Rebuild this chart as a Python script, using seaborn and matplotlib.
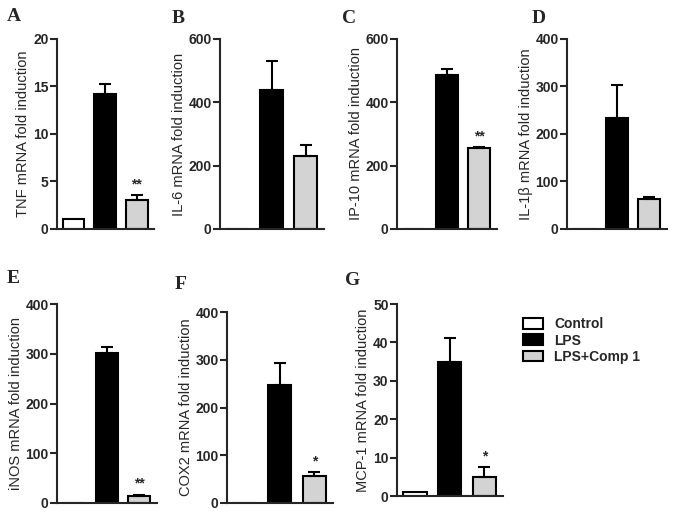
import numpy as np
import seaborn as sns
import matplotlib.pyplot as plt
from matplotlib.patches import Patch

sns.set_style("ticks")
plt.rcParams['font.family'] = ['Liberation Sans', 'DejaVu Sans']

# grupos y colores
groups = ["Control", "LPS", "LPS+Comp 1"]
colors = ["white", "black", "#d3d3d3"]

# valores (media, error superior)
tnf = [1.0, 14.2, 3.1]
tnf_err = [0, 1.1, 0.5]
il6 = [1.0, 438, 230]
il6_err = [0, 94, 35]
ip10 = [1.0, 486, 255]
ip10_err = [0, 19, 3]
il1b = [1.0, 234, 64]
il1b_err = [0, 70, 4]
inos = [1.0, 302, 15]
inos_err = [0, 11, 2]
cox2 = [1.0, 248, 57]
cox2_err = [0, 46, 7]
mcp1 = [1.0, 35.0, 4.9]
mcp1_err = [0, 6.2, 2.6]

panels = [
    ("A", tnf, tnf_err, "TNF mRNA fold induction", 20, 5, ["", "", "**"]),
    ("B", il6, il6_err, "IL-6 mRNA fold induction", 600, 200, ["", "", ""]),
    ("C", ip10, ip10_err, "IP-10 mRNA fold induction", 600, 200, ["", "", "**"]),
    ("D", il1b, il1b_err, "IL-1\u03b2 mRNA fold induction", 400, 100, ["", "", ""]),
    ("E", inos, inos_err, "iNOS mRNA fold induction", 400, 100, ["", "", "**"]),
    ("F", cox2, cox2_err, "COX2 mRNA fold induction", 400, 100, ["", "", "*"]),
    ("G", mcp1, mcp1_err, "MCP-1 mRNA fold induction", 50, 10, ["", "", "*"]),
]

# posiciones de los ejes en pixeles (izq, der, arriba, abajo) y de las letras
W, H = 674, 515
boxes = [(57, 154, 39, 229), (220, 324, 39, 229), (397, 497, 39, 229),
         (567, 667, 39, 229), (57, 157, 304, 503), (227, 333, 312, 503),
         (397, 503, 304, 496)]
letters = [(7, 21), (172, 23), (342, 23), (532, 23), (7, 283), (175, 289), (345, 285)]

fig = plt.figure(figsize=(6.74, 5.15), dpi=100)

for (letter, vals, errs, label, top, step, stars), (l, r, t, b), (lx, ly) in zip(panels, boxes, letters):
    ax = fig.add_axes([l / W, 1 - b / H, (r - l) / W, (b - t) / H])
    sns.barplot(x=groups, y=vals, hue=groups, palette=colors, edgecolor="black",
                linewidth=1.5, width=0.68, legend=False, ax=ax)
    for i in range(3):
        if errs[i] > 0:
            ax.errorbar(i, vals[i], yerr=[[0], [errs[i]]], fmt="none", ecolor="black",
                        elinewidth=1.5, capsize=4.3, capthick=1.5)
        if stars[i]:
            ax.text(i, vals[i] + errs[i] + top * 0.02, stars[i], ha="center", va="bottom",
                    fontsize=10, fontweight="bold")
    ax.set_xlim(-0.52, 2.54)
    ax.set_ylim(0, top)
    ax.set_yticks(np.arange(0, top + step / 2, step))
    ax.set_xticks([])
    ax.set_xlabel("")
    ax.set_ylabel(label, fontsize=10.5, labelpad=2)
    ax.tick_params(axis="y", length=5, width=1.5, labelsize=10, pad=1)
    for tl in ax.get_yticklabels():
        tl.set_fontweight("bold")
    sns.despine(ax=ax)
    ax.spines["left"].set_linewidth(1.5)
    ax.spines["bottom"].set_linewidth(1.5)
    fig.text(lx / W, 1 - ly / H, letter, fontsize=14, fontweight="bold",
             family="Liberation Serif", ha="left", va="baseline")

handles = [Patch(facecolor=c, edgecolor="black", linewidth=1.5) for c in colors]
fig.legend(handles, groups, loc="upper left", bbox_to_anchor=(510 / W, 1 - 305 / H),
           frameon=False, prop={"size": 10, "weight": "bold"}, handlelength=1.45,
           handleheight=0.8, labelspacing=0.15, handletextpad=0.85)

plt.savefig("out.png", dpi=100)
